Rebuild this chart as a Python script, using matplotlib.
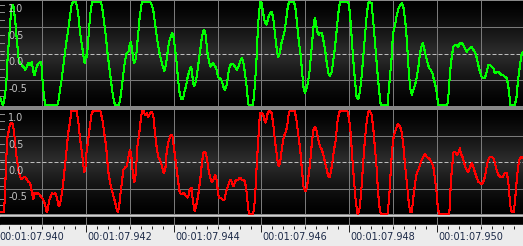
import numpy as np
import matplotlib
matplotlib.use("Agg")
import matplotlib.pyplot as plt
from matplotlib.colors import LinearSegmentedColormap

# ---------------- data ----------------
SAMPLE_RATE = 44100          # samples per second
START_LABEL = "00:01:07"     # hh:mm:ss of the window start (67.940 s)
START_MS = 940               # milliseconds part of the start

# left channel (green): sample offsets from start and amplitude
left_samples = [
    2.0, 4.7, 6.0, 8.0, 9.3, 11.3, 13.0, 14.3, 15.3, 17.0,
    18.7, 20.3, 21.3, 23.7, 25.3, 27.0, 28.7, 30.3, 32.0, 33.7,
    35.3, 36.3, 37.7, 39.3, 41.0, 42.7, 43.7, 44.7, 46.0, 47.3,
    48.7, 59.3, 60.7, 62.0, 63.7, 65.3, 67.0, 68.7, 70.3, 72.0,
    73.7, 75.3, 78.0, 79.3, 80.7, 82.0, 83.7, 85.3, 86.3, 87.3,
    88.0, 88.7, 89.7, 90.7, 92.0, 93.3, 94.7, 103.2, 104.8, 106.5,
    108.2, 109.8, 111.5, 113.2, 114.8, 116.5, 117.8, 121.2, 122.5, 124.2,
    125.8, 127.5, 129.2, 130.8, 132.5, 133.5, 135.8, 136.8, 138.5, 139.8,
    140.8, 141.8, 143.2, 144.2, 145.2, 152.5, 154.2, 155.8, 157.5, 158.5,
    159.8, 161.8, 164.2, 165.8, 166.8, 168.5, 170.2, 171.5, 173.2, 174.8,
    176.2, 177.5, 179.2, 180.8, 182.5, 184.2, 185.8, 186.8, 188.5, 189.8,
    190.8, 192.5, 193.5, 194.5, 195.2, 196.5, 197.8, 199.2, 200.8, 203.0,
    204.7, 206.3, 208.0, 209.0, 210.3, 211.7, 213.0, 214.3, 215.7, 217.0,
    218.3, 219.7, 220.7, 221.7, 223.7, 225.0, 226.3, 228.0, 229.7, 231.3,
    233.0, 234.7, 236.3, 238.0, 239.7, 241.3, 243.0, 244.7, 246.3, 248.0,
    249.7, 250.7, 251.7, 255.7, 257.0, 258.3, 259.7, 261.0, 262.3, 263.7,
    264.7, 266.3, 268.0, 269.7, 271.3, 273.0, 274.7, 276.3, 278.0, 279.7,
    281.3, 283.0, 284.7, 286.3, 288.0, 289.7, 291.3, 293.0, 297.3, 299.0,
    300.7, 302.3, 304.2, 305.2, 306.8, 308.2, 309.5, 311.2, 312.8, 314.5,
    316.2, 317.5, 318.5, 319.5, 320.8, 322.2, 323.5, 325.2, 326.8, 328.5,
    330.2, 331.8, 333.5, 335.2, 336.8, 338.5, 340.2, 341.8, 343.5, 351.8,
    353.5, 355.2, 356.8, 358.5, 360.2, 361.8, 363.5, 365.2, 366.8, 368.5,
    370.2, 371.8, 373.5, 375.2, 376.8, 378.5, 380.2, 381.8, 383.5, 384.5,
    391.2, 392.8, 393.5, 395.2, 396.8, 398.5, 400.2, 401.8, 404.0, 405.7,
    407.3, 409.0, 410.7, 412.3, 414.0, 415.7, 417.3, 419.0, 420.7, 422.3,
    424.0, 425.7, 426.7, 428.0, 429.7, 431.3, 433.0, 434.7, 436.3, 438.0,
    439.7, 441.0, 442.3, 451.3, 452.7, 454.0, 455.7, 457.3, 459.0, 460.7,
    462.3, 464.0, 465.7, 467.3, 469.0, 470.7, 472.3, 474.0, 475.9, 477.5,
    479.2, 480.9, 482.5, 484.2, 485.9, 487.5, 489.2, 490.9, 492.5, 494.2,
    495.9, 497.5, 499.2, 500.9, 502.5, 504.2, 505.9, 507.5, 509.2, 510.9,
    512.5, 513.5, 514.9, 519.2, 520.9, 522.5, 524.2, 525.9, 527.2]
left_values = [
    -0.84, -0.98, -0.88, -0.59, -0.12, 0.39, 0.82, 0.92, 0.88, 0.63,
    0.25, -0.07, -0.16, -0.22, -0.25, -0.31, -0.25, -0.18, -0.22, -0.16,
    -0.35, -0.42, -0.31, -0.22, -0.18, -0.16, -0.25, -0.56, -0.82, -0.97,
    -0.98, -0.98, -0.88, -0.69, -0.50, -0.25, 0.01, 0.25, 0.44, 0.69,
    0.92, 0.98, 0.98, 0.88, 0.69, 0.44, 0.20, 0.01, -0.16, -0.18,
    -0.03, -0.08, 0.07, 0.31, 0.63, 0.88, 0.98, 0.98, 0.82, 0.58,
    0.31, 0.01, -0.25, -0.50, -0.73, -0.92, -0.98, -0.98, -0.88, -0.63,
    -0.37, -0.12, 0.01, 0.03, 0.20, 0.22, -0.12, -0.18, -0.08, 0.20,
    0.39, 0.63, 0.82, 0.95, 0.98, 0.98, 0.92, 0.82, 0.58, 0.44,
    0.25, 0.03, -0.16, -0.27, -0.33, -0.22, 0.01, 0.20, 0.31, 0.39,
    0.31, 0.12, -0.16, -0.50, -0.78, -0.86, -0.86, -0.75, -0.63, -0.50,
    -0.41, -0.31, -0.25, -0.31, -0.44, -0.61, -0.59, -0.46, -0.25, 0.07,
    0.31, 0.44, 0.41, 0.25, 0.01, -0.12, -0.25, -0.22, -0.18, -0.22,
    -0.25, -0.31, -0.44, -0.46, -0.48, -0.54, -0.63, -0.69, -0.59, -0.37,
    -0.22, -0.20, -0.20, -0.25, -0.31, -0.25, -0.16, -0.08, -0.16, -0.37,
    -0.63, -0.84, -0.98, -0.98, -0.82, -0.50, -0.07, 0.50, 0.82, 0.98,
    0.95, 0.76, 0.58, 0.54, 0.67, 0.76, 0.78, 0.69, 0.39, 0.12,
    -0.08, 0.01, 0.20, 0.31, 0.44, 0.69, 0.92, 0.98, 0.98, 0.82,
    0.50, 0.20, -0.07, -0.31, -0.63, -0.75, -0.69, -0.56, -0.35, 0.01,
    0.39, 0.63, 0.67, 0.54, 0.41, 0.35, 0.39, 0.39, 0.25, 0.07,
    -0.18, -0.37, -0.42, -0.35, -0.12, 0.12, 0.44, 0.76, 0.98, 0.98,
    0.76, 0.31, -0.12, -0.50, -0.82, -0.86, -0.73, -0.44, -0.07, 0.31,
    0.69, 0.95, 0.97, 0.95, 0.63, 0.25, -0.12, -0.50, -0.82, -0.98,
    -0.98, -0.63, -0.50, -0.12, 0.39, 0.50, 0.69, 0.82, 0.92, 0.95,
    0.86, 0.63, 0.25, -0.25, -0.65, -0.78, -0.69, -0.59, -0.44, -0.25,
    0.01, 0.16, 0.20, 0.10, -0.03, -0.16, -0.27, -0.31, -0.37, -0.50,
    -0.63, -0.78, -0.98, -0.98, -0.75, -0.37, -0.08, 0.12, 0.16, 0.16,
    0.12, 0.20, 0.20, 0.16, 0.10, 0.03, 0.07, 0.10, 0.12, 0.07,
    0.03, -0.08, -0.22, -0.35, -0.44, -0.46, -0.46, -0.35, -0.22, -0.22,
    -0.25, -0.27, -0.37, -0.35, -0.35, -0.37, -0.41, -0.41, -0.44, -0.46,
    -0.59, -0.75, -0.98, -0.98, -0.82, -0.50, -0.25, -0.03, 0.03]

# right channel (red)
right_samples = [
    1.8, 5.3, 6.0, 7.0, 8.0, 9.3, 11.3, 12.7, 13.7, 14.7,
    16.0, 17.3, 18.7, 20.3, 22.0, 23.7, 25.3, 27.0, 28.7, 30.3,
    32.0, 33.7, 35.3, 36.3, 38.0, 39.7, 41.3, 43.7, 45.3, 47.0,
    48.7, 49.7, 51.3, 52.7, 54.3, 55.3, 57.0, 58.7, 60.3, 61.3,
    63.0, 64.0, 65.3, 67.0, 68.7, 70.3, 72.0, 73.7, 78.7, 80.3,
    82.0, 83.7, 85.3, 86.3, 87.7, 88.7, 90.3, 92.0, 93.7, 95.3,
    102.5, 103.5, 105.2, 106.5, 108.5, 109.8, 110.8, 112.5, 114.2, 115.8,
    117.5, 119.2, 120.2, 121.5, 122.5, 124.2, 125.8, 127.5, 129.2, 130.8,
    132.5, 134.2, 135.2, 136.5, 137.5, 138.5, 139.8, 141.8, 143.2, 144.5,
    145.8, 147.5, 149.2, 150.8, 152.5, 154.2, 155.8, 157.5, 159.2, 160.8,
    162.5, 164.2, 165.8, 166.8, 168.2, 169.2, 170.8, 172.5, 174.2, 175.2,
    176.5, 178.2, 179.8, 181.5, 182.5, 184.2, 185.8, 187.5, 189.2, 190.8,
    192.5, 194.2, 195.8, 197.5, 199.2, 200.8, 203.0, 204.7, 206.3, 208.0,
    209.7, 211.3, 213.0, 214.7, 216.3, 218.0, 219.0, 220.3, 221.7, 223.7,
    225.7, 227.3, 229.0, 230.7, 232.3, 233.7, 235.0, 236.3, 238.0, 239.7,
    241.3, 243.0, 244.7, 246.3, 248.0, 249.7, 251.3, 252.3, 256.3, 258.0,
    259.7, 261.3, 263.0, 264.7, 266.3, 268.0, 269.0, 270.3, 271.3, 273.0,
    274.7, 276.3, 278.0, 279.7, 281.3, 282.3, 283.7, 285.3, 287.0, 288.7,
    290.3, 292.0, 293.0, 298.0, 299.7, 301.3, 303.5, 305.2, 306.8, 308.5,
    310.2, 311.8, 313.5, 315.2, 316.8, 318.5, 320.2, 321.8, 323.5, 325.2,
    326.8, 328.5, 330.2, 331.8, 332.8, 334.2, 335.8, 337.5, 339.2, 340.8,
    342.5, 343.5, 350.8, 352.5, 354.2, 355.8, 357.5, 359.2, 360.8, 361.8,
    363.5, 365.2, 366.8, 368.5, 370.2, 371.8, 373.5, 375.2, 376.8, 378.5,
    380.2, 381.8, 383.5, 384.5, 391.2, 392.8, 395.2, 396.8, 398.5, 400.2,
    401.8, 404.0, 405.7, 407.3, 409.0, 410.7, 412.3, 414.0, 415.7, 417.3,
    419.0, 420.7, 422.3, 424.0, 425.7, 427.3, 429.0, 430.7, 432.3, 434.0,
    435.7, 437.3, 439.0, 440.7, 441.7, 443.0, 453.3, 454.0, 455.0, 456.3,
    457.3, 459.0, 460.7, 462.3, 464.0, 465.0, 466.7, 468.0, 469.3, 470.7,
    472.3, 474.0, 475.9, 477.5, 479.2, 480.9, 482.5, 484.2, 485.9, 487.5,
    489.2, 490.9, 492.5, 494.2, 495.9, 497.5, 499.2, 500.9, 502.5, 504.2,
    505.9, 507.5, 509.2, 510.9, 512.5, 513.5, 514.9, 516.2, 518.2, 519.5,
    520.9, 522.5, 524.2, 525.9, 527.2]
right_values = [
    -0.95, -0.95, -0.90, -0.46, 0.05, 0.48, 0.67, 0.75, 0.75, 0.71,
    0.56, 0.29, 0.05, -0.14, -0.27, -0.33, -0.29, -0.27, -0.33, -0.37,
    -0.39, -0.56, -0.71, -0.58, -0.61, -0.58, -0.61, -0.67, -0.71, -0.80,
    -0.95, -0.90, -0.71, -0.65, -0.58, -0.61, -0.58, -0.65, -0.80, -0.84,
    -0.71, -0.58, -0.39, -0.08, 0.24, 0.56, 0.75, 0.98, 0.98, 0.80,
    0.48, 0.24, -0.01, -0.20, -0.08, 0.18, 0.42, 0.67, 0.90, 0.98,
    0.98, 0.90, 0.75, 0.56, 0.29, -0.01, -0.20, -0.39, -0.52, -0.65,
    -0.76, -0.90, -0.95, -0.84, -0.65, -0.39, -0.14, -0.10, -0.08, 0.10,
    0.24, 0.05, -0.20, -0.39, -0.33, -0.14, 0.29, 0.56, 0.80, 0.98,
    0.98, 0.90, 0.93, 0.86, 0.93, 0.95, 0.90, 0.56, 0.29, 0.10,
    0.05, -0.05, -0.18, -0.20, -0.08, 0.18, 0.37, 0.48, 0.52, 0.48,
    0.29, 0.05, -0.20, -0.46, -0.58, -0.61, -0.58, -0.61, -0.65, -0.67,
    -0.52, -0.48, -0.76, -0.93, -0.80, -0.65, -0.33, -0.01, 0.18, 0.20,
    0.08, -0.14, -0.29, -0.37, -0.33, -0.24, -0.27, -0.48, -0.67, -0.67,
    -0.71, -0.71, -0.56, -0.46, -0.37, -0.33, -0.39, -0.46, -0.37, -0.33,
    -0.33, -0.29, -0.33, -0.33, -0.37, -0.58, -0.90, -0.98, -0.98, -0.71,
    -0.08, 0.42, 0.93, 0.93, 0.90, 0.76, 0.75, 0.90, 0.95, 0.97,
    0.93, 0.75, 0.42, 0.18, -0.05, -0.07, 0.05, 0.29, 0.48, 0.56,
    0.67, 0.93, 0.98, 0.98, 0.80, 0.56, 0.24, -0.14, -0.46, -0.56,
    -0.48, -0.27, -0.01, 0.37, 0.61, 0.67, 0.58, 0.42, 0.29, 0.24,
    0.14, -0.01, -0.14, -0.27, -0.29, -0.20, -0.01, 0.24, 0.42, 0.75,
    0.93, 0.98, 0.98, 0.84, 0.56, 0.10, -0.33, -0.71, -0.95, -0.98,
    -0.84, -0.46, -0.01, 0.42, 0.75, 0.95, 0.98, 0.90, 0.67, 0.29,
    -0.08, -0.58, -0.90, -0.98, -0.98, -0.71, 0.05, 0.42, 0.56, 0.65,
    0.73, 0.67, 0.56, 0.29, -0.08, -0.39, -0.71, -0.95, -0.95, -0.65,
    -0.39, -0.20, -0.14, -0.05, 0.05, 0.10, 0.16, 0.10, 0.08, 0.05,
    -0.01, -0.08, -0.33, -0.58, -0.84, -0.98, -0.98, -0.76, -0.33, -0.08,
    0.18, 0.20, 0.14, 0.16, 0.27, 0.16, 0.10, 0.01, -0.08, -0.14,
    -0.18, -0.10, -0.01, -0.08, -0.20, -0.29, -0.37, -0.39, -0.42, -0.37,
    -0.27, -0.08, 0.05, 0.10, 0.10, 0.08, -0.01, -0.14, -0.24, -0.27,
    -0.29, -0.27, -0.20, -0.20, -0.33, -0.58, -0.84, -0.95, -0.95, -0.71,
    -0.39, -0.08, 0.08, 0.10, 0.08]

y_tick_values = [1.0, 0.5, 0.0, -0.5]
y_tick_labels = ["1.0", "0.5", "0.0", "-0.5"]
y_minor_ticks = [0.92, 0.78, 0.63, 0.35, 0.19, 0.05, -0.13, -0.30, -0.45,
                 -0.69, -0.81]
time_label_ms = [0, 2, 4, 6, 8, 10]          # labelled ticks (ms after start)
grid_ms = [1, 2, 3, 4, 5, 6, 7, 8, 9, 10, 11]  # vertical grid lines

# ---------------- figure ----------------
W, H = 523, 246
fig = plt.figure(figsize=(W / 100, H / 100), dpi=100, facecolor="#878787")


def px_axes(x0, y0, x1, y1):
    return fig.add_axes([x0 / W, 1 - y1 / H, (x1 - x0) / W, (y1 - y0) / H])


XLIM = (0.04, 11.96)
YLIM = (-0.99, 0.99)
PT = 0.72  # points per pixel

bg_cmap = LinearSegmentedColormap.from_list("bg", ["#000000", "#2e2e2e"])
yy = np.linspace(YLIM[0], YLIM[1], 300)
shade = (1 - np.abs(yy)) ** 1.3

channels = [
    (px_axes(0, 1, W, 106), left_samples, left_values, "#00ff00"),
    (px_axes(0, 110, W, 214.5), right_samples, right_values, "#ff0000"),
]

for ax, samples, values, color in channels:
    t_ms = np.asarray(samples) / SAMPLE_RATE * 1000.0
    ax.imshow(shade[:, None], extent=[XLIM[0], XLIM[1], YLIM[0], YLIM[1]],
              origin="lower", aspect="auto", cmap=bg_cmap, vmin=0, vmax=1,
              zorder=0, interpolation="bilinear")
    for g in grid_ms:
        ax.axvline(g, color="#7a7a7a", lw=PT, zorder=1)
    for yv in (0.5, -0.5):
        ax.axhline(yv, color="#7a7a7a", lw=PT, zorder=1)
    ax.axhline(0.0, color="#bdbdbd", lw=PT, dashes=(4, 2), zorder=1)
    # short left-edge ticks (about 4 px long)
    for yv in y_minor_ticks:
        ax.plot([0, 4.0 / W], [yv, yv], color="#8a8a8a", lw=PT, zorder=2,
                transform=ax.get_yaxis_transform(), antialiased=False)
    ax.plot(t_ms, values, color=color, lw=PT * 1.05, antialiased=False,
            zorder=3, solid_joinstyle="miter")
    for yv, lbl in zip(y_tick_values, y_tick_labels):
        ax.annotate(lbl, xy=(0, yv), xycoords=("axes fraction", "data"),
                    xytext=(8.3 * PT, -3.8 * PT), textcoords="offset points",
                    ha="left", va="top", fontsize=7, color="#c4c4c4",
                    annotation_clip=False, zorder=4)
    ax.set_xlim(XLIM)
    ax.set_ylim(YLIM)
    ax.axis("off")

# ---------------- time ruler ----------------
rax = px_axes(0, 214.5, W, H)
rax.set_xlim(XLIM)
rax.set_ylim(H - 214.5, 0)
rax.axis("off")
rax.axhspan(0, 2.2, color="#d0d0d0", zorder=0)
rax.axhspan(2.2, 10.7, color="#000000", zorder=0)
rax.axhspan(10.7, H - 214.5, color="#ececec", zorder=0)
rax.vlines(grid_ms, 2.2, 10.7, color="#7a7a7a", lw=PT, zorder=1)
minor = np.arange(0, 12.01, 0.25)
rax.vlines(minor, 11.0, 14.0, color="#202020", lw=PT, zorder=1)
rax.vlines(time_label_ms, 10.7, 17.3, color="#202020", lw=PT, zorder=1)
for ms in time_label_ms:
    rax.annotate(f"{START_LABEL}.{START_MS + ms:03d}", xy=(ms, 17.9),
                 xycoords="data", xytext=(1.2 * PT, 0),
                 textcoords="offset points", ha="left", va="top",
                 fontsize=7, color="#1c2a48", annotation_clip=False)

fig.savefig("out.png", dpi=100, facecolor=fig.get_facecolor())
